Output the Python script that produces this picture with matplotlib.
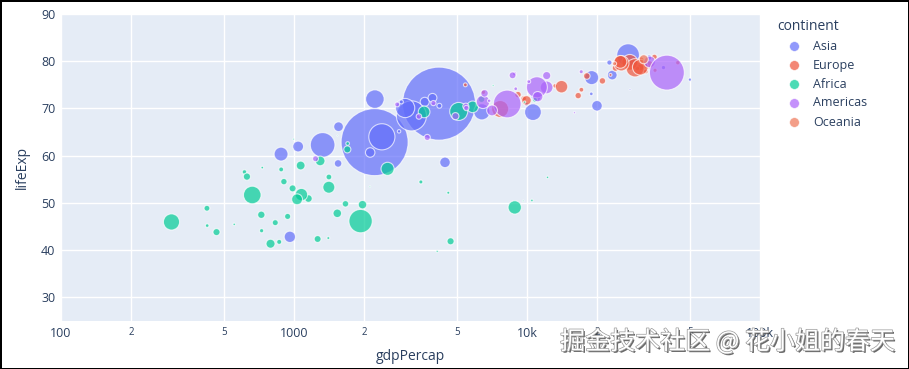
import matplotlib
matplotlib.use("Agg")
import matplotlib.pyplot as plt
import matplotlib.patheffects as pe
from matplotlib.lines import Line2D
from matplotlib.ticker import FixedLocator, FixedFormatter

# values (gdpPercap, lifeExp, pop in millions)
continents = ["Asia", "Europe", "Africa", "Americas", "Oceania"]

asia_country = ["Afghanistan", "Bahrain", "Bangladesh", "Cambodia", "China", "Hong Kong", "India",
                "Indonesia", "Iran", "Iraq", "Israel", "Japan", "Jordan", "Korea Dem. Rep.", "Korea Rep.",
                "Kuwait", "Lebanon", "Malaysia", "Mongolia", "Myanmar", "Nepal", "Oman", "Pakistan",
                "Philippines", "Saudi Arabia", "Singapore", "Sri Lanka", "Syria", "Taiwan", "Thailand",
                "Vietnam", "West Bank and Gaza", "Yemen"]
asia_gdp = [960, 27672, 1327, 1546, 4190, 33450, 2218, 3191, 10607, 4447, 22576, 27161, 4206, 1553, 18945,
            50009, 9934, 10951, 2824, 880, 1042, 18873, 2383, 3000, 19970, 38525, 3639, 3930, 23225, 6399,
            2224, 2889, 2123]
asia_life = [42.82, 73.98, 62.28, 58.36, 71.02, 80.79, 62.87, 68.43, 69.22, 58.59, 79.72, 81.29, 70.57,
             66.14, 76.53, 76.11, 70.92, 72.51, 65.16, 60.34, 61.94, 73.09, 64.00, 70.09, 70.57, 78.66,
             71.40, 72.25, 77.07, 69.29, 71.98, 71.39, 60.68]
asia_pop = [31.89, 0.71, 150.45, 14.13, 1318.68, 6.98, 1110.40, 223.55, 69.45, 27.50, 6.43, 127.47, 6.05,
            23.30, 49.04, 2.51, 3.92, 24.82, 2.87, 47.76, 28.90, 3.20, 169.27, 91.08, 27.60, 4.55, 20.38,
            19.31, 23.17, 65.07, 85.26, 4.02, 22.21]

europe_country = ["Albania", "Austria", "Belgium", "Bosnia and Herzegovina", "Bulgaria", "Croatia",
                  "Czech Republic", "Denmark", "Finland", "France", "Germany", "Greece", "Hungary", "Iceland",
                  "Ireland", "Italy", "Montenegro", "Netherlands", "Norway", "Poland", "Portugal", "Romania",
                  "Serbia", "Slovak Republic", "Slovenia", "Spain", "Sweden", "Switzerland", "Turkey",
                  "United Kingdom"]
europe_gdp = [5438, 32080, 30684, 6498, 9676, 13182, 21069, 32350, 29747, 27617, 29086, 23997, 16585, 32494,
              35444, 25398, 8510, 33472, 44378, 14068, 18059, 9950, 9150, 17117, 22825, 25178, 30870, 35230,
              7671, 30633]
europe_life = [75.00, 78.96, 78.67, 73.44, 72.11, 74.78, 75.84, 77.83, 78.46, 79.77, 78.61, 78.57, 72.72,
               81.14, 78.08, 79.57, 73.51, 79.25, 79.69, 74.61, 76.87, 71.71, 72.93, 73.97, 77.10, 79.87,
               80.28, 80.89, 69.89, 78.74]
europe_pop = [3.60, 8.20, 10.39, 4.55, 7.32, 4.49, 10.23, 5.47, 5.24, 61.08, 82.40, 10.71, 9.96, 0.30, 4.11,
              58.15, 0.68, 16.57, 4.63, 38.52, 10.64, 22.28, 10.15, 5.45, 2.01, 40.45, 9.03, 7.55, 71.16, 60.78]

africa_country = ["Algeria", "Angola", "Benin", "Botswana", "Burkina Faso", "Burundi", "Cameroon",
                  "Central African Republic", "Chad", "Comoros", "Congo Dem. Rep.", "Congo Rep.",
                  "Cote d'Ivoire", "Djibouti", "Egypt", "Equatorial Guinea", "Eritrea", "Ethiopia", "Gabon",
                  "Gambia", "Ghana", "Guinea", "Guinea-Bissau", "Kenya", "Lesotho", "Liberia", "Libya",
                  "Madagascar", "Malawi", "Mali", "Mauritania", "Mauritius", "Morocco", "Mozambique",
                  "Namibia", "Niger", "Nigeria", "Reunion", "Rwanda", "Sao Tome and Principe", "Senegal",
                  "Sierra Leone", "Somalia", "South Africa", "Sudan", "Swaziland", "Tanzania", "Togo",
                  "Tunisia", "Uganda", "Zambia", "Zimbabwe"]
africa_gdp = [5846, 4699, 1412, 10495, 1153, 423, 1968, 726, 1663, 994, 298, 3504, 1534, 2117, 5092, 9629,
              613, 662, 12249, 731, 1295, 905, 554, 1411, 1404, 424, 10818, 1068, 724, 986, 1699, 9767, 3617,
              793, 4595, 628, 1931, 7155, 831, 1536, 1694, 864, 939, 8861, 2521, 4118, 1076, 881, 6383, 1031,
              1263, 465]
africa_life = [70.34, 41.88, 55.49, 50.52, 50.93, 48.87, 49.63, 44.12, 49.81, 63.51, 45.97, 54.44, 47.80,
               53.45, 69.37, 50.43, 56.56, 51.68, 55.41, 57.48, 58.89, 54.51, 45.46, 53.32, 42.56, 45.20,
               71.86, 57.92, 47.49, 53.08, 62.58, 71.34, 69.27, 41.36, 52.16, 55.57, 46.15, 74.85, 45.82,
               64.25, 61.33, 41.75, 47.14, 49.05, 57.22, 39.73, 51.76, 57.09, 71.96, 50.77, 42.36, 43.82]
africa_pop = [33.33, 12.42, 8.08, 1.64, 14.33, 8.39, 17.70, 4.37, 10.24, 0.71, 64.61, 3.80, 18.01, 0.50,
              80.26, 0.55, 4.91, 76.51, 1.45, 1.69, 22.87, 9.95, 1.47, 35.61, 2.01, 3.19, 6.04, 19.17, 13.33,
              12.03, 3.27, 1.25, 33.76, 19.95, 2.06, 12.89, 135.03, 0.80, 8.86, 0.20, 12.27, 6.14, 9.12,
              44.00, 42.29, 1.13, 38.14, 5.70, 10.28, 29.17, 11.75, 12.31]

americas_country = ["Argentina", "Bolivia", "Brazil", "Canada", "Chile", "Colombia", "Costa Rica", "Cuba",
                    "Dominican Republic", "Ecuador", "El Salvador", "Guatemala", "Haiti", "Honduras",
                    "Jamaica", "Mexico", "Nicaragua", "Panama", "Paraguay", "Peru", "Puerto Rico",
                    "Trinidad and Tobago", "United States", "Uruguay", "Venezuela"]
americas_gdp = [12136, 3732, 8222, 33599, 12148, 6473, 8840, 8670, 5463, 6572, 5491, 4929, 1237, 3436, 6880,
                11025, 2772, 8946, 3966, 7079, 17093, 15979, 39842, 10181, 11118]
americas_life = [74.46, 63.87, 70.95, 79.86, 76.96, 71.40, 77.34, 77.01, 70.47, 73.21, 70.09, 68.37, 59.35,
                 68.30, 71.63, 74.49, 70.85, 74.17, 71.14, 69.58, 77.78, 69.10, 77.59, 75.69, 72.50]
americas_pop = [40.30, 9.12, 190.01, 33.39, 16.28, 44.23, 4.13, 11.42, 9.32, 13.76, 6.94, 12.57, 8.50, 7.48,
                2.78, 108.70, 5.68, 3.24, 6.67, 28.67, 3.94, 1.06, 301.14, 3.45, 26.08]

oceania_country = ["Australia", "New Zealand"]
oceania_gdp = [31705, 23759]
oceania_life = [80.42, 79.48]
oceania_pop = [20.43, 4.12]

x_major = [100, 1000, 10000, 100000]
x_major_labels = ["100", "1000", "10k", "100k"]
x_minor = [200, 500, 2000, 5000, 20000, 50000]
x_minor_labels = ["2", "5", "2", "5", "2", "5"]
y_ticks = [30, 40, 50, 60, 70, 80, 90]

colors = ["#636EFA", "#EF553B", "#00CC96", "#AB63FA", "#EE7556"]
series = [(asia_gdp, asia_life, asia_pop), (europe_gdp, europe_life, europe_pop),
          (africa_gdp, africa_life, africa_pop), (americas_gdp, americas_life, americas_pop),
          (oceania_gdp, oceania_life, oceania_pop)]

text_color = "#2a3f5f"
plt.rcParams["font.family"] = ["Open Sans", "DejaVu Sans"]

fig = plt.figure(figsize=(9.09, 3.69), dpi=100, facecolor="white", edgecolor="black", linewidth=2)
ax = fig.add_axes([61 / 909, 48 / 369, 699 / 909, 307 / 369])
ax.set_facecolor("#E5ECF6")

# biggest bubble is about 73 px across
max_pop = max(asia_pop)
biggest = (73 * 0.72) ** 2
for (gdp, life, pop), col in zip(series, colors):
    sizes = [biggest * p / max_pop for p in pop]
    ax.scatter(gdp, life, s=sizes, color=col, alpha=0.7, edgecolors="white", linewidths=0.8, zorder=3)

ax.set_xscale("log")
ax.set_xlim(100, 100000)
ax.set_ylim(25, 90)

ax.xaxis.set_major_locator(FixedLocator(x_major))
ax.xaxis.set_major_formatter(FixedFormatter(x_major_labels))
ax.xaxis.set_minor_locator(FixedLocator(x_minor))
ax.xaxis.set_minor_formatter(FixedFormatter(x_minor_labels))
ax.set_yticks(y_ticks)

ax.tick_params(axis="both", which="both", length=0, colors=text_color)
ax.tick_params(axis="x", which="major", labelsize=9, pad=4)
ax.tick_params(axis="x", which="minor", labelsize=7, pad=4)
ax.tick_params(axis="y", labelsize=9, pad=4)
ax.grid(True, which="both", color="white", linewidth=1)
ax.set_axisbelow(True)
for s in ax.spines.values():
    s.set_visible(False)

fig.text(410 / 909, 1 - 357 / 369, "gdpPercap", ha="center", va="center", fontsize=10, color=text_color)
fig.text(22 / 909, 1 - 167 / 369, "lifeExp", ha="center", va="center", rotation=90, fontsize=10,
         color=text_color)

# legend
fig.text(777 / 909, 1 - 27 / 369, "continent", ha="left", va="center", fontsize=10, color=text_color)
for i, (name, col) in enumerate(zip(continents, colors)):
    yy = 1 - (46 + 19 * i) / 369
    fig.add_artist(Line2D([794 / 909], [yy], marker="o", markersize=7, color=col, alpha=0.7,
                          markeredgecolor="white", markeredgewidth=0.5, linestyle="none",
                          transform=fig.transFigure))
    fig.text(813 / 909, yy, name, ha="left", va="center", fontsize=9, color=text_color)

# watermark
fig.text(895 / 909, 1 - 342 / 369, "掘金技术社区 @ 花小姐的春天", ha="right", va="center", fontsize=18,
         color="white", family=["Noto Sans CJK SC", "DejaVu Sans"], zorder=10,
         path_effects=[pe.SimplePatchShadow(offset=(1.2, -1.2), shadow_rgbFace="#444444", alpha=0.8),
                       pe.Stroke(linewidth=1, foreground="#999999"), pe.Normal()])

fig.savefig("out.png", dpi=100)
